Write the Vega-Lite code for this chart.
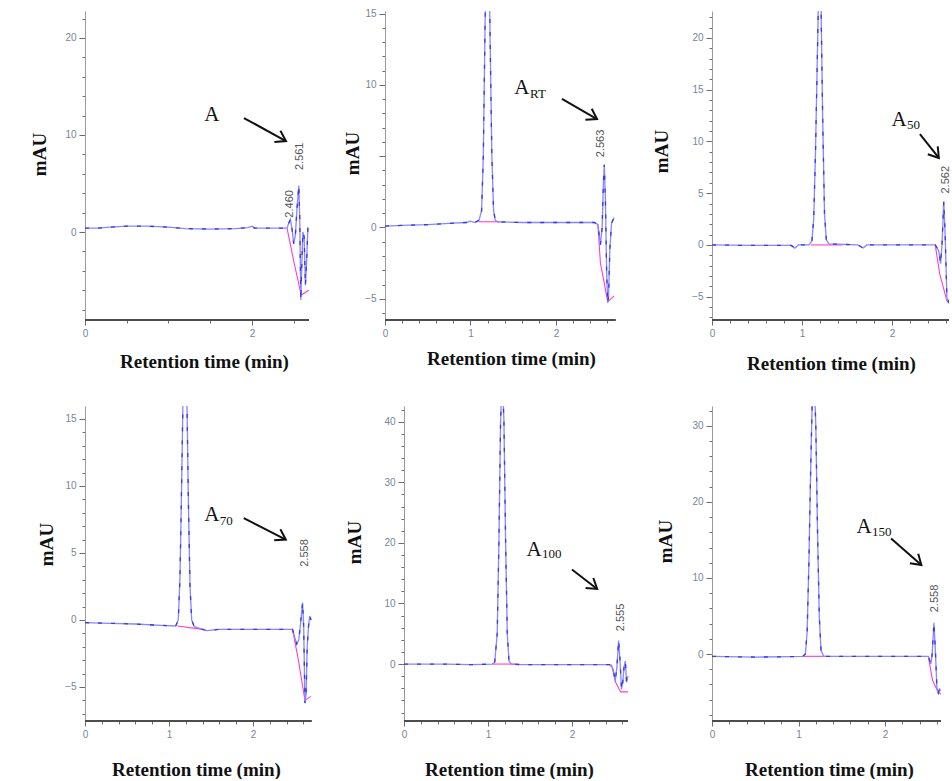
{
  "$schema": "https://vega.github.io/schema/vega-lite/v6.json",
  "background": "white",
  "padding": {"left": 30, "top": 8, "right": 0, "bottom": 0},
  "autosize": {"type": "pad"},
  "bounds": "flush",
  "columns": 3,
  "spacing": {"row": 86, "column": 73},
  "config": {
    "view": {"stroke": null},
    "axis": {
      "grid": false,
      "labelFont": "Liberation Sans",
      "labelFontSize": 10,
      "labelColor": "#7a8596",
      "labelOverlap": false,
      "labelFlush": false,
      "labelPadding": 3,
      "tickColor": "#6d6d6d",
      "domainColor": "#9a9a9a",
      "titleFont": "Liberation Serif",
      "titleFontWeight": "bold",
      "titleColor": "#111111",
      "titleAlign": "center",
      "titleBaseline": "middle"
    },
    "axisX": {"domain": false, "titleFontSize": 19},
    "axisY": {"titleFontSize": 19}
  },
  "datasets": {
    "sig": [
      {"p":1,"g":"s","t":0,"v":0.4},{"p":1,"g":"s","t":0.15,"v":0.4},{"p":1,"g":"s","t":0.3,"v":0.5},{"p":1,"g":"s","t":0.5,"v":0.6},{"p":1,"g":"s","t":0.75,"v":0.6},{"p":1,"g":"s","t":1.0,"v":0.5},{"p":1,"g":"s","t":1.2,"v":0.35},{"p":1,"g":"s","t":1.5,"v":0.3},{"p":1,"g":"s","t":1.8,"v":0.35},{"p":1,"g":"s","t":1.95,"v":0.45},{"p":1,"g":"s","t":2.0,"v":0.6},{"p":1,"g":"s","t":2.03,"v":0.4},{"p":1,"g":"s","t":2.42,"v":0.4},{"p":1,"g":"s","t":2.44,"v":0.9},{"p":1,"g":"s","t":2.46,"v":1.3},{"p":1,"g":"s","t":2.48,"v":0.3},{"p":1,"g":"s","t":2.5,"v":-1.2},{"p":1,"g":"s","t":2.52,"v":-0.3},{"p":1,"g":"s","t":2.54,"v":2.5},{"p":1,"g":"s","t":2.561,"v":4.8},{"p":1,"g":"s","t":2.572,"v":1.5},{"p":1,"g":"s","t":2.585,"v":-7},{"p":1,"g":"s","t":2.598,"v":-3},{"p":1,"g":"s","t":2.61,"v":0},{"p":1,"g":"s","t":2.625,"v":-0.5},{"p":1,"g":"s","t":2.64,"v":-5.5},{"p":1,"g":"s","t":2.655,"v":-3},{"p":1,"g":"s","t":2.67,"v":0.5},
      {"p":1,"g":"b2","t":2.42,"v":0.4},{"p":1,"g":"b2","t":2.5,"v":-3},{"p":1,"g":"b2","t":2.59,"v":-6.5},{"p":1,"g":"b2","t":2.68,"v":-6},

      {"p":2,"g":"s","t":0,"v":0.1},{"p":2,"g":"s","t":0.2,"v":0.15},{"p":2,"g":"s","t":0.5,"v":0.2},{"p":2,"g":"s","t":0.8,"v":0.3},{"p":2,"g":"s","t":0.95,"v":0.35},{"p":2,"g":"s","t":1.0,"v":0.45},{"p":2,"g":"s","t":1.05,"v":0.35},{"p":2,"g":"s","t":1.1,"v":0.5},{"p":2,"g":"s","t":1.13,"v":1.2},{"p":2,"g":"s","t":1.15,"v":5},{"p":2,"g":"s","t":1.17,"v":14},{"p":2,"g":"s","t":1.19,"v":21},{"p":2,"g":"s","t":1.21,"v":22},{"p":2,"g":"s","t":1.23,"v":13},{"p":2,"g":"s","t":1.25,"v":5},{"p":2,"g":"s","t":1.27,"v":1.2},{"p":2,"g":"s","t":1.29,"v":0.5},{"p":2,"g":"s","t":1.32,"v":0.4},{"p":2,"g":"s","t":1.6,"v":0.35},{"p":2,"g":"s","t":2.0,"v":0.35},{"p":2,"g":"s","t":2.45,"v":0.35},{"p":2,"g":"s","t":2.49,"v":0.2},{"p":2,"g":"s","t":2.52,"v":-1.2},{"p":2,"g":"s","t":2.54,"v":0},{"p":2,"g":"s","t":2.555,"v":3.2},{"p":2,"g":"s","t":2.565,"v":4.4},{"p":2,"g":"s","t":2.578,"v":2},{"p":2,"g":"s","t":2.592,"v":-3},{"p":2,"g":"s","t":2.605,"v":-5.3},{"p":2,"g":"s","t":2.615,"v":-4.8},{"p":2,"g":"s","t":2.63,"v":-1.5},{"p":2,"g":"s","t":2.65,"v":0.3},{"p":2,"g":"s","t":2.68,"v":0.7},
      {"p":2,"g":"b1","t":1.1,"v":0.4},{"p":2,"g":"b1","t":1.35,"v":0.4},
      {"p":2,"g":"b2","t":2.49,"v":0.2},{"p":2,"g":"b2","t":2.52,"v":-2.5},{"p":2,"g":"b2","t":2.605,"v":-5.2},{"p":2,"g":"b2","t":2.68,"v":-4.8},

      {"p":3,"g":"s","t":0,"v":0},{"p":3,"g":"s","t":0.4,"v":-0.05},{"p":3,"g":"s","t":0.88,"v":-0.05},{"p":3,"g":"s","t":0.92,"v":-0.3},{"p":3,"g":"s","t":0.96,"v":0},{"p":3,"g":"s","t":1.08,"v":0},{"p":3,"g":"s","t":1.11,"v":0.4},{"p":3,"g":"s","t":1.13,"v":2.5},{"p":3,"g":"s","t":1.15,"v":9},{"p":3,"g":"s","t":1.17,"v":18},{"p":3,"g":"s","t":1.19,"v":27},{"p":3,"g":"s","t":1.21,"v":24},{"p":3,"g":"s","t":1.23,"v":12},{"p":3,"g":"s","t":1.25,"v":3},{"p":3,"g":"s","t":1.27,"v":0.5},{"p":3,"g":"s","t":1.3,"v":0.1},{"p":3,"g":"s","t":1.62,"v":0},{"p":3,"g":"s","t":1.68,"v":-0.3},{"p":3,"g":"s","t":1.72,"v":0},{"p":3,"g":"s","t":2.2,"v":0},{"p":3,"g":"s","t":2.48,"v":0},{"p":3,"g":"s","t":2.52,"v":-0.6},{"p":3,"g":"s","t":2.54,"v":-1.8},{"p":3,"g":"s","t":2.555,"v":0},{"p":3,"g":"s","t":2.575,"v":4.2},{"p":3,"g":"s","t":2.59,"v":1},{"p":3,"g":"s","t":2.61,"v":-5.2},{"p":3,"g":"s","t":2.625,"v":-5.5},{"p":3,"g":"s","t":2.633,"v":-5.3},
      {"p":3,"g":"b1","t":1.1,"v":0},{"p":3,"g":"b1","t":1.45,"v":0},
      {"p":3,"g":"b2","t":2.48,"v":0},{"p":3,"g":"b2","t":2.53,"v":-2.8},{"p":3,"g":"b2","t":2.61,"v":-5.4},{"p":3,"g":"b2","t":2.633,"v":-5.5},

      {"p":4,"g":"s","t":0,"v":-0.2},{"p":4,"g":"s","t":0.3,"v":-0.25},{"p":4,"g":"s","t":0.6,"v":-0.3},{"p":4,"g":"s","t":0.9,"v":-0.4},{"p":4,"g":"s","t":1.08,"v":-0.45},{"p":4,"g":"s","t":1.11,"v":0},{"p":4,"g":"s","t":1.13,"v":3},{"p":4,"g":"s","t":1.15,"v":10},{"p":4,"g":"s","t":1.17,"v":18},{"p":4,"g":"s","t":1.19,"v":22},{"p":4,"g":"s","t":1.21,"v":18},{"p":4,"g":"s","t":1.23,"v":9},{"p":4,"g":"s","t":1.25,"v":2.5},{"p":4,"g":"s","t":1.27,"v":0},{"p":4,"g":"s","t":1.3,"v":-0.5},{"p":4,"g":"s","t":1.4,"v":-0.7},{"p":4,"g":"s","t":1.45,"v":-0.8},{"p":4,"g":"s","t":1.6,"v":-0.7},{"p":4,"g":"s","t":2.0,"v":-0.7},{"p":4,"g":"s","t":2.47,"v":-0.7},{"p":4,"g":"s","t":2.52,"v":-1.8},{"p":4,"g":"s","t":2.545,"v":-1.5},{"p":4,"g":"s","t":2.57,"v":0},{"p":4,"g":"s","t":2.59,"v":1.3},{"p":4,"g":"s","t":2.603,"v":-0.5},{"p":4,"g":"s","t":2.618,"v":-6.2},{"p":4,"g":"s","t":2.632,"v":-5.5},{"p":4,"g":"s","t":2.645,"v":-2},{"p":4,"g":"s","t":2.66,"v":-0.5},{"p":4,"g":"s","t":2.675,"v":0.3},{"p":4,"g":"s","t":2.69,"v":0},
      {"p":4,"g":"b1","t":1.1,"v":-0.45},{"p":4,"g":"b1","t":1.4,"v":-0.7},
      {"p":4,"g":"b2","t":2.47,"v":-0.7},{"p":4,"g":"b2","t":2.54,"v":-3},{"p":4,"g":"b2","t":2.618,"v":-6},{"p":4,"g":"b2","t":2.69,"v":-5.7},

      {"p":5,"g":"s","t":0,"v":0},{"p":5,"g":"s","t":0.5,"v":0},{"p":5,"g":"s","t":0.8,"v":-0.1},{"p":5,"g":"s","t":1.05,"v":0},{"p":5,"g":"s","t":1.08,"v":0.3},{"p":5,"g":"s","t":1.11,"v":5},{"p":5,"g":"s","t":1.13,"v":20},{"p":5,"g":"s","t":1.15,"v":40},{"p":5,"g":"s","t":1.17,"v":48},{"p":5,"g":"s","t":1.19,"v":40},{"p":5,"g":"s","t":1.21,"v":20},{"p":5,"g":"s","t":1.23,"v":5},{"p":5,"g":"s","t":1.25,"v":0.5},{"p":5,"g":"s","t":1.28,"v":0},{"p":5,"g":"s","t":1.4,"v":-0.1},{"p":5,"g":"s","t":2.0,"v":-0.1},{"p":5,"g":"s","t":2.45,"v":-0.1},{"p":5,"g":"s","t":2.49,"v":-0.8},{"p":5,"g":"s","t":2.515,"v":-2.8},{"p":5,"g":"s","t":2.535,"v":-0.5},{"p":5,"g":"s","t":2.555,"v":3.9},{"p":5,"g":"s","t":2.57,"v":1},{"p":5,"g":"s","t":2.59,"v":-4.2},{"p":5,"g":"s","t":2.605,"v":-3},{"p":5,"g":"s","t":2.62,"v":-0.5},{"p":5,"g":"s","t":2.635,"v":0.5},{"p":5,"g":"s","t":2.65,"v":-3},{"p":5,"g":"s","t":2.667,"v":-2},
      {"p":5,"g":"b1","t":1.05,"v":0},{"p":5,"g":"b1","t":1.35,"v":0},
      {"p":5,"g":"b2","t":2.47,"v":-0.1},{"p":5,"g":"b2","t":2.52,"v":-3},{"p":5,"g":"b2","t":2.58,"v":-4.6},{"p":5,"g":"b2","t":2.667,"v":-4.6},

      {"p":6,"g":"s","t":0,"v":-0.3},{"p":6,"g":"s","t":0.5,"v":-0.4},{"p":6,"g":"s","t":0.9,"v":-0.35},{"p":6,"g":"s","t":1.05,"v":-0.3},{"p":6,"g":"s","t":1.08,"v":0},{"p":6,"g":"s","t":1.1,"v":3},{"p":6,"g":"s","t":1.12,"v":12},{"p":6,"g":"s","t":1.14,"v":24},{"p":6,"g":"s","t":1.16,"v":34},{"p":6,"g":"s","t":1.18,"v":37},{"p":6,"g":"s","t":1.2,"v":30},{"p":6,"g":"s","t":1.22,"v":16},{"p":6,"g":"s","t":1.24,"v":5},{"p":6,"g":"s","t":1.26,"v":0.5},{"p":6,"g":"s","t":1.29,"v":-0.3},{"p":6,"g":"s","t":1.5,"v":-0.3},{"p":6,"g":"s","t":2.0,"v":-0.3},{"p":6,"g":"s","t":2.5,"v":-0.3},{"p":6,"g":"s","t":2.53,"v":-1.3},{"p":6,"g":"s","t":2.545,"v":0},{"p":6,"g":"s","t":2.565,"v":4.1},{"p":6,"g":"s","t":2.58,"v":1},{"p":6,"g":"s","t":2.6,"v":-4.5},{"p":6,"g":"s","t":2.615,"v":-5.1},{"p":6,"g":"s","t":2.63,"v":-4.6},{"p":6,"g":"s","t":2.647,"v":-4.8},
      {"p":6,"g":"b1","t":1.06,"v":-0.3},{"p":6,"g":"b1","t":1.32,"v":-0.3},
      {"p":6,"g":"b2","t":2.5,"v":-0.3},{"p":6,"g":"b2","t":2.55,"v":-3.5},{"p":6,"g":"b2","t":2.61,"v":-4.9},{"p":6,"g":"b2","t":2.647,"v":-5.3}
    ],
    "axl": [
      {"p":1,"t":0,"t0":2.683,"v":-9.07},
      {"p":2,"t":0,"t0":2.7,"v":-6.49},
      {"p":3,"t":0,"t0":2.633,"v":-7.25},
      {"p":4,"t":0,"t0":2.7,"v":-7.54},
      {"p":5,"t":0,"t0":2.667,"v":-9.4},
      {"p":6,"t":0,"t0":2.647,"v":-8.8}
    ],
    "arr": [
      {"p":1,"t":2.407,"v":9.38,"t0":1.904,"v0":11.75},
      {"p":2,"t":2.48,"v":7.61,"t0":2.07,"v0":9.02},
      {"p":3,"t":2.52,"v":8.4,"t0":2.31,"v0":10.7},
      {"p":4,"t":2.39,"v":6.0,"t0":1.89,"v0":7.6},
      {"p":5,"t":2.3,"v":12.4,"t0":2.0,"v0":15.6},
      {"p":6,"t":2.42,"v":11.7,"t0":2.07,"v0":15.2}
    ],
    "notes": [
      {"p":1,"k":"A","t":1.52,"v":12.1,"txt":"A"},
      {"p":1,"k":"pk","t":2.575,"v":7.8,"txt":"2.561"},
      {"p":1,"k":"pk","t":2.455,"v":2.9,"txt":"2.460"},
      {"p":2,"k":"A","t":1.6,"v":9.79,"txt":"A"},
      {"p":2,"k":"sub","t":1.696,"v":9.4,"txt":"RT"},
      {"p":2,"k":"pk","t":2.53,"v":5.9,"txt":"2.563"},
      {"p":3,"k":"A","t":2.078,"v":12.1,"txt":"A"},
      {"p":3,"k":"sub","t":2.167,"v":11.6,"txt":"50"},
      {"p":3,"k":"pk","t":2.6,"v":6.3,"txt":"2.562"},
      {"p":4,"k":"A","t":1.51,"v":7.8,"txt":"A"},
      {"p":4,"k":"sub","t":1.605,"v":7.4,"txt":"70"},
      {"p":4,"k":"pk","t":2.62,"v":5.0,"txt":"2.558"},
      {"p":5,"k":"A","t":1.548,"v":18.9,"txt":"A"},
      {"p":5,"k":"sub","t":1.643,"v":18.1,"txt":"100"},
      {"p":5,"k":"pk","t":2.58,"v":7.7,"txt":"2.555"},
      {"p":6,"k":"A","t":1.757,"v":16.7,"txt":"A"},
      {"p":6,"k":"sub","t":1.85,"v":16.1,"txt":"150"},
      {"p":6,"k":"pk","t":2.58,"v":7.3,"txt":"2.558"}
    ]
  },
  "concat": [
    {
      "width": 227, "height": 309,
      "encoding": {
        "x": {"field": "t", "type": "quantitative", "scale": {"domain": [0, 2.719], "nice": false, "zero": false},
          "axis": {"values": [0,0.5,1,1.5,2,2.5], "labelExpr": "datum.value == 0 || datum.value == 2 ? '' + datum.value : ''", "tickSize": {"condition": {"test": "datum.value == 0 || datum.value == 2", "value": 5}, "value": 3}, "title": "Retention time (min)", "titleX": 119, "titleY": 41}},
        "y": {"field": "v", "type": "quantitative", "scale": {"domain": [-9.07, 22.78], "nice": false, "zero": false},
          "axis": {"values": [-8,-6,-4,-2,0,2,4,6,8,10,12,14,16,18,20,22], "labelExpr": "datum.value % 10 == 0 ? datum.label : ''", "tickSize": {"condition": {"test": "datum.value % 10 == 0", "value": 6}, "value": 3}, "title": "mAU", "titleX": -46, "titleY": 143}}
      },
      "layer": [
        {"data": {"name": "axl"}, "transform": [{"filter": "datum.p == 1"}], "mark": {"type": "rule", "color": "#4d4d4d", "strokeWidth": 2}, "encoding": {"x2": {"field": "t0"}}},
        {"data": {"name": "sig"}, "transform": [{"filter": "datum.p == 1 && datum.g != 's'"}], "mark": {"type": "line", "color": "#ff3fc8", "strokeWidth": 1.1, "clip": true}, "encoding": {"detail": {"field": "g"}}},
        {"data": {"name": "sig"}, "transform": [{"filter": "datum.p == 1 && datum.g == 's'"}], "mark": {"type": "line", "color": "#8787ff", "strokeWidth": 1.3, "clip": true}},
        {"data": {"name": "sig"}, "transform": [{"filter": "datum.p == 1 && datum.g == 's'"}], "mark": {"type": "line", "color": "#3a3ae0", "strokeWidth": 1.3, "strokeDash": [4, 9], "clip": true}},
        {"data": {"name": "arr"}, "transform": [{"filter": "datum.p == 1"}], "mark": {"type": "rule", "color": "#111111", "strokeWidth": 2}, "encoding": {"x2": {"field": "t0"}, "y2": {"field": "v0"}}},
        {"data": {"name": "arr"}, "transform": [{"filter": "datum.p == 1"}], "mark": {"type": "point", "shape": "M-1,-0.65L0,0L-1,0.65", "filled": false, "size": 380, "strokeWidth": 2, "color": "#111111", "opacity": 1, "angle": 28.7}},
        {"data": {"name": "notes"}, "transform": [{"filter": "datum.p == 1 && datum.k == 'pk'"}], "mark": {"type": "text", "angle": 270, "font": "Liberation Sans", "fontSize": 11, "color": "#555555", "align": "center", "baseline": "middle"}, "encoding": {"text": {"field": "txt"}}},
        {"data": {"name": "notes"}, "transform": [{"filter": "datum.p == 1 && datum.k == 'A'"}], "mark": {"type": "text", "font": "Liberation Serif", "fontSize": 21, "color": "#111111", "align": "center", "baseline": "middle"}, "encoding": {"text": {"field": "txt"}}}
      ]
    },
    {
      "width": 254, "height": 309,
      "encoding": {
        "x": {"field": "t", "type": "quantitative", "scale": {"domain": [0, 2.971], "nice": false, "zero": false},
          "axis": {"values": [0,0.2,0.4,0.6,0.8,1,1.2,1.4,1.6,1.8,2,2.2,2.4,2.6], "labelExpr": "datum.value == 0 || datum.value == 1 || datum.value == 2 ? '' + datum.value : ''", "tickSize": {"condition": {"test": "datum.value == 0 || datum.value == 1 || datum.value == 2", "value": 5}, "value": 3}, "title": "Retention time (min)", "titleX": 126, "titleY": 38}},
        "y": {"field": "v", "type": "quantitative", "scale": {"domain": [-6.49, 15.19], "nice": false, "zero": false},
          "axis": {"values": [-6,-5,-4,-3,-2,-1,0,1,2,3,4,5,6,7,8,9,10,11,12,13,14,15], "labelExpr": "datum.value % 5 == 0 && datum.value != 5 ? datum.label : ''", "tickSize": {"condition": {"test": "datum.value % 5 == 0", "value": 6}, "value": 3}, "title": "mAU", "titleX": -33, "titleY": 142}}
      },
      "layer": [
        {"data": {"name": "axl"}, "transform": [{"filter": "datum.p == 2"}], "mark": {"type": "rule", "color": "#4d4d4d", "strokeWidth": 2}, "encoding": {"x2": {"field": "t0"}}},
        {"data": {"name": "sig"}, "transform": [{"filter": "datum.p == 2 && datum.g != 's'"}], "mark": {"type": "line", "color": "#ff3fc8", "strokeWidth": 1.1, "clip": true}, "encoding": {"detail": {"field": "g"}}},
        {"data": {"name": "sig"}, "transform": [{"filter": "datum.p == 2 && datum.g == 's'"}], "mark": {"type": "line", "color": "#8787ff", "strokeWidth": 1.3, "clip": true}},
        {"data": {"name": "sig"}, "transform": [{"filter": "datum.p == 2 && datum.g == 's'"}], "mark": {"type": "line", "color": "#3a3ae0", "strokeWidth": 1.3, "strokeDash": [4, 9], "clip": true}},
        {"data": {"name": "arr"}, "transform": [{"filter": "datum.p == 2"}], "mark": {"type": "rule", "color": "#111111", "strokeWidth": 2}, "encoding": {"x2": {"field": "t0"}, "y2": {"field": "v0"}}},
        {"data": {"name": "arr"}, "transform": [{"filter": "datum.p == 2"}], "mark": {"type": "point", "shape": "M-1,-0.65L0,0L-1,0.65", "filled": false, "size": 380, "strokeWidth": 2, "color": "#111111", "opacity": 1, "angle": 29.9}},
        {"data": {"name": "notes"}, "transform": [{"filter": "datum.p == 2 && datum.k == 'pk'"}], "mark": {"type": "text", "angle": 270, "font": "Liberation Sans", "fontSize": 11, "color": "#555555", "align": "center", "baseline": "middle"}, "encoding": {"text": {"field": "txt"}}},
        {"data": {"name": "notes"}, "transform": [{"filter": "datum.p == 2 && datum.k == 'A'"}], "mark": {"type": "text", "font": "Liberation Serif", "fontSize": 21, "color": "#111111", "align": "center", "baseline": "middle"}, "encoding": {"text": {"field": "txt"}}},
        {"data": {"name": "notes"}, "transform": [{"filter": "datum.p == 2 && datum.k == 'sub'"}], "mark": {"type": "text", "font": "Liberation Serif", "fontSize": 13, "color": "#111111", "align": "left", "baseline": "middle"}, "encoding": {"text": {"field": "txt"}}}
      ]
    },
    {
      "width": 237, "height": 309,
      "encoding": {
        "x": {"field": "t", "type": "quantitative", "scale": {"domain": [0, 2.633], "nice": false, "zero": false},
          "axis": {"values": [0,0.2,0.4,0.6,0.8,1,1.2,1.4,1.6,1.8,2,2.2,2.4,2.6], "labelExpr": "datum.value == 0 || datum.value == 1 || datum.value == 2 ? '' + datum.value : ''", "tickSize": {"condition": {"test": "datum.value == 0 || datum.value == 1 || datum.value == 2", "value": 5}, "value": 3}, "title": "Retention time (min)", "titleX": 119, "titleY": 43}},
        "y": {"field": "v", "type": "quantitative", "scale": {"domain": [-7.25, 22.6], "nice": false, "zero": false},
          "axis": {"values": [-7,-6,-5,-4,-3,-2,-1,0,1,2,3,4,5,6,7,8,9,10,11,12,13,14,15,16,17,18,19,20,21,22], "labelExpr": "datum.value % 5 == 0 ? datum.label : ''", "tickSize": {"condition": {"test": "datum.value % 5 == 0", "value": 6}, "value": 3}, "title": "mAU", "titleX": -51, "titleY": 140}}
      },
      "layer": [
        {"data": {"name": "axl"}, "transform": [{"filter": "datum.p == 3"}], "mark": {"type": "rule", "color": "#4d4d4d", "strokeWidth": 2}, "encoding": {"x2": {"field": "t0"}}},
        {"data": {"name": "sig"}, "transform": [{"filter": "datum.p == 3 && datum.g != 's'"}], "mark": {"type": "line", "color": "#ff3fc8", "strokeWidth": 1.1, "clip": true}, "encoding": {"detail": {"field": "g"}}},
        {"data": {"name": "sig"}, "transform": [{"filter": "datum.p == 3 && datum.g == 's'"}], "mark": {"type": "line", "color": "#8787ff", "strokeWidth": 1.3, "clip": true}},
        {"data": {"name": "sig"}, "transform": [{"filter": "datum.p == 3 && datum.g == 's'"}], "mark": {"type": "line", "color": "#3a3ae0", "strokeWidth": 1.3, "strokeDash": [4, 9], "clip": true}},
        {"data": {"name": "arr"}, "transform": [{"filter": "datum.p == 3"}], "mark": {"type": "rule", "color": "#111111", "strokeWidth": 2}, "encoding": {"x2": {"field": "t0"}, "y2": {"field": "v0"}}},
        {"data": {"name": "arr"}, "transform": [{"filter": "datum.p == 3"}], "mark": {"type": "point", "shape": "M-1,-0.65L0,0L-1,0.65", "filled": false, "size": 380, "strokeWidth": 2, "color": "#111111", "opacity": 1, "angle": 51.6}},
        {"data": {"name": "notes"}, "transform": [{"filter": "datum.p == 3 && datum.k == 'pk'"}], "mark": {"type": "text", "angle": 270, "font": "Liberation Sans", "fontSize": 11, "color": "#555555", "align": "center", "baseline": "middle"}, "encoding": {"text": {"field": "txt"}}},
        {"data": {"name": "notes"}, "transform": [{"filter": "datum.p == 3 && datum.k == 'A'"}], "mark": {"type": "text", "font": "Liberation Serif", "fontSize": 21, "color": "#111111", "align": "center", "baseline": "middle"}, "encoding": {"text": {"field": "txt"}}},
        {"data": {"name": "notes"}, "transform": [{"filter": "datum.p == 3 && datum.k == 'sub'"}], "mark": {"type": "text", "font": "Liberation Serif", "fontSize": 13, "color": "#111111", "align": "left", "baseline": "middle"}, "encoding": {"text": {"field": "txt"}}}
      ]
    },
    {
      "width": 227, "height": 315,
      "encoding": {
        "x": {"field": "t", "type": "quantitative", "scale": {"domain": [0, 2.702], "nice": false, "zero": false},
          "axis": {"values": [0,0.2,0.4,0.6,0.8,1,1.2,1.4,1.6,1.8,2,2.2,2.4,2.6], "labelExpr": "datum.value == 0 || datum.value == 1 || datum.value == 2 ? '' + datum.value : ''", "tickSize": {"condition": {"test": "datum.value == 0 || datum.value == 1 || datum.value == 2", "value": 5}, "value": 3}, "title": "Retention time (min)", "titleX": 111, "titleY": 48}},
        "y": {"field": "v", "type": "quantitative", "scale": {"domain": [-7.54, 15.97], "nice": false, "zero": false},
          "axis": {"values": [-7,-6,-5,-4,-3,-2,-1,0,1,2,3,4,5,6,7,8,9,10,11,12,13,14,15], "labelExpr": "datum.value % 5 == 0 ? datum.label : ''", "tickSize": {"condition": {"test": "datum.value % 5 == 0", "value": 6}, "value": 3}, "title": "mAU", "titleX": -39, "titleY": 138}}
      },
      "layer": [
        {"data": {"name": "axl"}, "transform": [{"filter": "datum.p == 4"}], "mark": {"type": "rule", "color": "#4d4d4d", "strokeWidth": 2}, "encoding": {"x2": {"field": "t0"}}},
        {"data": {"name": "sig"}, "transform": [{"filter": "datum.p == 4 && datum.g != 's'"}], "mark": {"type": "line", "color": "#ff3fc8", "strokeWidth": 1.1, "clip": true}, "encoding": {"detail": {"field": "g"}}},
        {"data": {"name": "sig"}, "transform": [{"filter": "datum.p == 4 && datum.g == 's'"}], "mark": {"type": "line", "color": "#8787ff", "strokeWidth": 1.3, "clip": true}},
        {"data": {"name": "sig"}, "transform": [{"filter": "datum.p == 4 && datum.g == 's'"}], "mark": {"type": "line", "color": "#3a3ae0", "strokeWidth": 1.3, "strokeDash": [4, 9], "clip": true}},
        {"data": {"name": "arr"}, "transform": [{"filter": "datum.p == 4"}], "mark": {"type": "rule", "color": "#111111", "strokeWidth": 2}, "encoding": {"x2": {"field": "t0"}, "y2": {"field": "v0"}}},
        {"data": {"name": "arr"}, "transform": [{"filter": "datum.p == 4"}], "mark": {"type": "point", "shape": "M-1,-0.65L0,0L-1,0.65", "filled": false, "size": 380, "strokeWidth": 2, "color": "#111111", "opacity": 1, "angle": 29.3}},
        {"data": {"name": "notes"}, "transform": [{"filter": "datum.p == 4 && datum.k == 'pk'"}], "mark": {"type": "text", "angle": 270, "font": "Liberation Sans", "fontSize": 11, "color": "#555555", "align": "center", "baseline": "middle"}, "encoding": {"text": {"field": "txt"}}},
        {"data": {"name": "notes"}, "transform": [{"filter": "datum.p == 4 && datum.k == 'A'"}], "mark": {"type": "text", "font": "Liberation Serif", "fontSize": 21, "color": "#111111", "align": "center", "baseline": "middle"}, "encoding": {"text": {"field": "txt"}}},
        {"data": {"name": "notes"}, "transform": [{"filter": "datum.p == 4 && datum.k == 'sub'"}], "mark": {"type": "text", "font": "Liberation Serif", "fontSize": 13, "color": "#111111", "align": "left", "baseline": "middle"}, "encoding": {"text": {"field": "txt"}}}
      ]
    },
    {
      "width": 254, "height": 315,
      "encoding": {
        "x": {"field": "t", "type": "quantitative", "scale": {"domain": [-0.226, 2.798], "nice": false, "zero": false},
          "axis": {"values": [0,0.2,0.4,0.6,0.8,1,1.2,1.4,1.6,1.8,2,2.2,2.4,2.6], "labelExpr": "datum.value == 0 || datum.value == 1 || datum.value == 2 ? '' + datum.value : ''", "tickSize": {"condition": {"test": "datum.value == 0 || datum.value == 1 || datum.value == 2", "value": 5}, "value": 3}, "title": "Retention time (min)", "titleX": 124, "titleY": 48}},
        "y": {"field": "v", "type": "quantitative", "scale": {"domain": [-9.4, 42.6], "nice": false, "zero": false},
          "axis": {"offset": -19, "values": [-8,-6,-4,-2,0,2,4,6,8,10,12,14,16,18,20,22,24,26,28,30,32,34,36,38,40,42], "labelExpr": "datum.value % 10 == 0 ? datum.label : ''", "tickSize": {"condition": {"test": "datum.value % 10 == 0", "value": 6}, "value": 3}, "title": "mAU", "titleX": -50, "titleY": 136}}
      },
      "layer": [
        {"data": {"name": "axl"}, "transform": [{"filter": "datum.p == 5"}], "mark": {"type": "rule", "color": "#4d4d4d", "strokeWidth": 2}, "encoding": {"x2": {"field": "t0"}}},
        {"data": {"name": "sig"}, "transform": [{"filter": "datum.p == 5 && datum.g != 's'"}], "mark": {"type": "line", "color": "#ff3fc8", "strokeWidth": 1.1, "clip": true}, "encoding": {"detail": {"field": "g"}}},
        {"data": {"name": "sig"}, "transform": [{"filter": "datum.p == 5 && datum.g == 's'"}], "mark": {"type": "line", "color": "#8787ff", "strokeWidth": 1.3, "clip": true}},
        {"data": {"name": "sig"}, "transform": [{"filter": "datum.p == 5 && datum.g == 's'"}], "mark": {"type": "line", "color": "#3a3ae0", "strokeWidth": 1.3, "strokeDash": [4, 9], "clip": true}},
        {"data": {"name": "arr"}, "transform": [{"filter": "datum.p == 5"}], "mark": {"type": "rule", "color": "#111111", "strokeWidth": 2}, "encoding": {"x2": {"field": "t0"}, "y2": {"field": "v0"}}},
        {"data": {"name": "arr"}, "transform": [{"filter": "datum.p == 5"}], "mark": {"type": "point", "shape": "M-1,-0.65L0,0L-1,0.65", "filled": false, "size": 380, "strokeWidth": 2, "color": "#111111", "opacity": 1, "angle": 37.6}},
        {"data": {"name": "notes"}, "transform": [{"filter": "datum.p == 5 && datum.k == 'pk'"}], "mark": {"type": "text", "angle": 270, "font": "Liberation Sans", "fontSize": 11, "color": "#555555", "align": "center", "baseline": "middle"}, "encoding": {"text": {"field": "txt"}}},
        {"data": {"name": "notes"}, "transform": [{"filter": "datum.p == 5 && datum.k == 'A'"}], "mark": {"type": "text", "font": "Liberation Serif", "fontSize": 21, "color": "#111111", "align": "center", "baseline": "middle"}, "encoding": {"text": {"field": "txt"}}},
        {"data": {"name": "notes"}, "transform": [{"filter": "datum.p == 5 && datum.k == 'sub'"}], "mark": {"type": "text", "font": "Liberation Serif", "fontSize": 13, "color": "#111111", "align": "left", "baseline": "middle"}, "encoding": {"text": {"field": "txt"}}}
      ]
    },
    {
      "width": 229, "height": 315,
      "encoding": {
        "x": {"field": "t", "type": "quantitative", "scale": {"domain": [0, 2.647], "nice": false, "zero": false},
          "axis": {"values": [0,0.2,0.4,0.6,0.8,1,1.2,1.4,1.6,1.8,2,2.2,2.4,2.6], "labelExpr": "datum.value == 0 || datum.value == 1 || datum.value == 2 ? '' + datum.value : ''", "tickSize": {"condition": {"test": "datum.value == 0 || datum.value == 1 || datum.value == 2", "value": 5}, "value": 3}, "title": "Retention time (min)", "titleX": 117, "titleY": 48}},
        "y": {"field": "v", "type": "quantitative", "scale": {"domain": [-8.8, 32.6], "nice": false, "zero": false},
          "axis": {"values": [-8,-6,-4,-2,0,2,4,6,8,10,12,14,16,18,20,22,24,26,28,30,32], "labelExpr": "datum.value % 10 == 0 ? datum.label : ''", "tickSize": {"condition": {"test": "datum.value % 10 == 0", "value": 6}, "value": 3}, "title": "mAU", "titleX": -47, "titleY": 135}}
      },
      "layer": [
        {"data": {"name": "axl"}, "transform": [{"filter": "datum.p == 6"}], "mark": {"type": "rule", "color": "#4d4d4d", "strokeWidth": 2}, "encoding": {"x2": {"field": "t0"}}},
        {"data": {"name": "sig"}, "transform": [{"filter": "datum.p == 6 && datum.g != 's'"}], "mark": {"type": "line", "color": "#ff3fc8", "strokeWidth": 1.1, "clip": true}, "encoding": {"detail": {"field": "g"}}},
        {"data": {"name": "sig"}, "transform": [{"filter": "datum.p == 6 && datum.g == 's'"}], "mark": {"type": "line", "color": "#8787ff", "strokeWidth": 1.3, "clip": true}},
        {"data": {"name": "sig"}, "transform": [{"filter": "datum.p == 6 && datum.g == 's'"}], "mark": {"type": "line", "color": "#3a3ae0", "strokeWidth": 1.3, "strokeDash": [4, 9], "clip": true}},
        {"data": {"name": "arr"}, "transform": [{"filter": "datum.p == 6"}], "mark": {"type": "rule", "color": "#111111", "strokeWidth": 2}, "encoding": {"x2": {"field": "t0"}, "y2": {"field": "v0"}}},
        {"data": {"name": "arr"}, "transform": [{"filter": "datum.p == 6"}], "mark": {"type": "point", "shape": "M-1,-0.65L0,0L-1,0.65", "filled": false, "size": 380, "strokeWidth": 2, "color": "#111111", "opacity": 1, "angle": 41.3}},
        {"data": {"name": "notes"}, "transform": [{"filter": "datum.p == 6 && datum.k == 'pk'"}], "mark": {"type": "text", "angle": 270, "font": "Liberation Sans", "fontSize": 11, "color": "#555555", "align": "center", "baseline": "middle"}, "encoding": {"text": {"field": "txt"}}},
        {"data": {"name": "notes"}, "transform": [{"filter": "datum.p == 6 && datum.k == 'A'"}], "mark": {"type": "text", "font": "Liberation Serif", "fontSize": 21, "color": "#111111", "align": "center", "baseline": "middle"}, "encoding": {"text": {"field": "txt"}}},
        {"data": {"name": "notes"}, "transform": [{"filter": "datum.p == 6 && datum.k == 'sub'"}], "mark": {"type": "text", "font": "Liberation Serif", "fontSize": 13, "color": "#111111", "align": "left", "baseline": "middle"}, "encoding": {"text": {"field": "txt"}}}
      ]
    }
  ]
}
